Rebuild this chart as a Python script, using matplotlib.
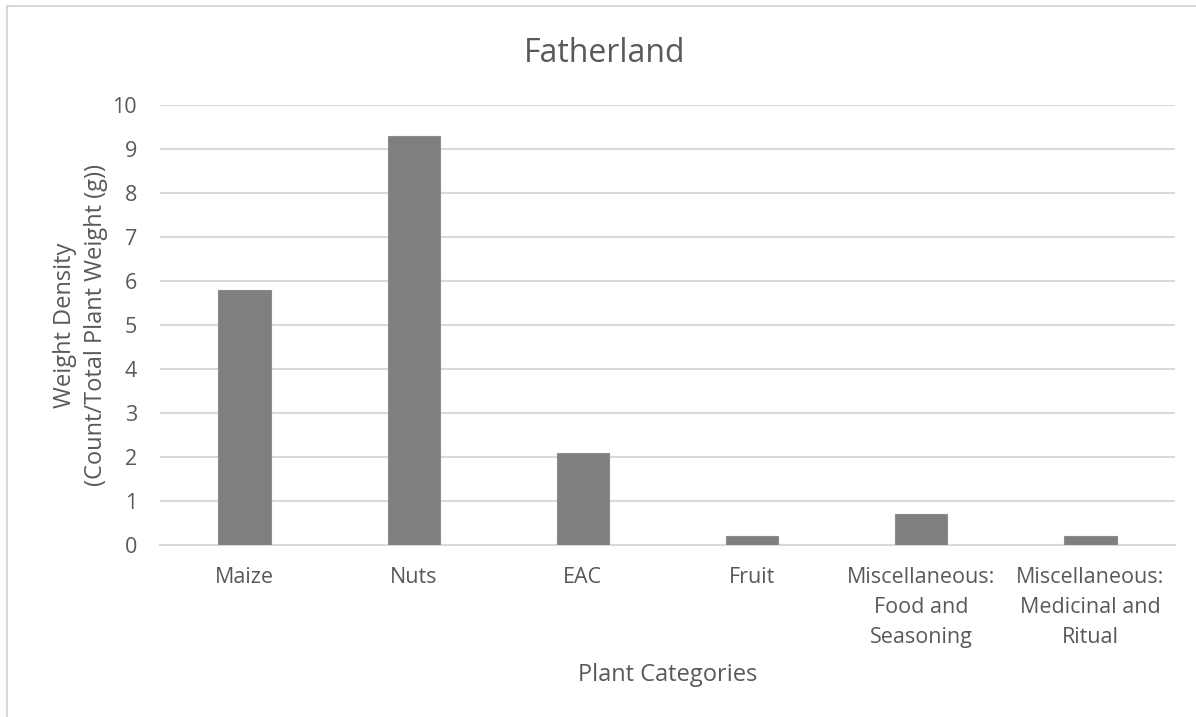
import matplotlib.pyplot as plt
from matplotlib.lines import Line2D

# Weight density per plant category
categories = [
    "Maize",
    "Nuts",
    "EAC",
    "Fruit",
    "Miscellaneous:\nFood and\nSeasoning",
    "Miscellaneous:\nMedicinal and\nRitual",
]
weight_density = [5.8, 9.3, 2.1, 0.2, 0.7, 0.2]
y_ticks = list(range(0, 11))

plt.rcParams["font.family"] = ["Open Sans", "DejaVu Sans"]
text_color = "#595959"

fig = plt.figure(figsize=(11.96, 7.17), dpi=100)
ax = fig.add_axes([0.1338, 0.2399, 0.8486, 0.6137])

x = range(len(categories))
ax.bar(x, weight_density, width=0.31, color="#7f7f7f", edgecolor="#8c8c8c",
       linewidth=0.8, zorder=3)

ax.set_xlim(-0.5, len(categories) - 0.5)
ax.set_ylim(0, 10)
ax.set_yticks(y_ticks)
ax.set_xticks(list(x))
ax.set_xticklabels(categories, fontsize=15.5, color=text_color, linespacing=1.55)
ax.tick_params(axis="y", labelsize=15.5, labelcolor=text_color, length=0, pad=16.5)
ax.tick_params(axis="x", length=0, pad=16)

ax.grid(axis="y", color="#d9d9d9", linewidth=1.5, zorder=0)
for side in ["top", "right", "left"]:
    ax.spines[side].set_visible(False)
ax.spines["bottom"].set_color("#d9d9d9")
ax.spines["bottom"].set_linewidth(1.5)

ax.set_title("Fatherland", fontsize=23, color=text_color, x=0.4384, y=1.0977, pad=0)
ax.set_ylabel("Weight Density\n(Count/Total Plant Weight (g))", fontsize=17,
              color=text_color, va="center", linespacing=1.35)
ax.yaxis.set_label_coords(-0.0785, 0.5)
ax.set_xlabel("Plant Categories", fontsize=17, color=text_color, va="center")
ax.xaxis.set_label_coords(0.5, -0.295)

# chart border, left and top edges
fig.add_artist(Line2D([7 / 1196, 7 / 1196], [0, 1 - 6 / 717], color="#d9d9d9",
                      linewidth=1.5, transform=fig.transFigure))
fig.add_artist(Line2D([7 / 1196, 1], [1 - 6 / 717, 1 - 6 / 717], color="#d9d9d9",
                      linewidth=1.5, transform=fig.transFigure))

fig.savefig("out.png", dpi=100)
